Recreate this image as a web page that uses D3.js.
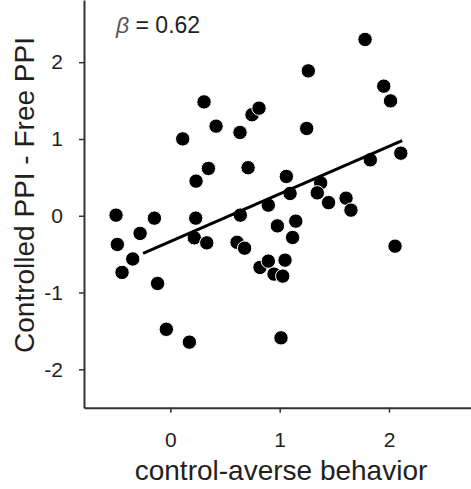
<!DOCTYPE html>
<html>
<head>
<meta charset="utf-8">
<script src="https://cdn.jsdelivr.net/npm/d3@7"></script>
<style>
  html, body { margin: 0; padding: 0; background: #fff; }
  svg { display: block; font-family: "Liberation Sans", Arial, sans-serif; }
</style>
</head>
<body>
<svg id="chart" width="471" height="489"></svg>
<script>
// Per-participant scores
const controlAverse = [
  0.308, 0.418, 0.113, 0.637, 0.747, 0.811, 0.348, 0.235, 0.711, 1.781,
  1.262, 1.952, 2.014, 1.247, 1.061, 1.829, 2.108, 1.095, 1.375, 1.344,
  1.447, 1.607, 1.652, 0.896, 0.979, 1.147, 1.118, 2.055, 0.820, 0.896,
  1.049, 0.948, 1.028, 1.012, -0.497, -0.146, 0.232, 0.640, -0.277, -0.485,
  0.219, 0.333, 0.610, 0.679, -0.344, -0.442, -0.117, -0.037, 0.174
];
const ppiDiff = [
  1.483, 1.167, 1.001, 1.085, 1.316, 1.401, 0.616, 0.451, 0.626, 2.296,
  1.887, 1.688, 1.496, 1.137, 0.512, 0.728, 0.815, 0.290, 0.428, 0.298,
  0.171, 0.229, 0.073, 0.138, -0.132, -0.070, -0.283, -0.396, -0.673, -0.591,
  -0.578, -0.760, -0.786, -1.590, 0.008, -0.031, -0.031, 0.008, -0.230, -0.374,
  -0.288, -0.353, -0.346, -0.422, -0.563, -0.738, -0.882, -1.479, -1.646
];

// Fitted regression
const beta = 0.62;
const intercept = -0.335;
const fitRange = [-0.25, 2.12];

const xTicks = [0, 1, 2];
const yTicks = [-2, -1, 0, 1, 2];

const xLabel = "control-averse behavior";
const yLabel = "Controlled PPI - Free PPI";

const svg = d3.select("#chart");
const ink = "#231f20";

const x = d3.scaleLinear().domain([-0.79, 2.75]).range([84, 471]);
const y = d3.scaleLinear().domain([-2.5, 2.81]).range([407.7, 0]);

// Axes
const xAxis = svg.append("g")
  .attr("transform", `translate(0,${y.range()[0]})`)
  .call(d3.axisBottom(x).tickValues(xTicks).tickFormat(d => String(d))
    .tickSize(5).tickSizeOuter(0).tickPadding(19));

const yAxis = svg.append("g")
  .attr("transform", `translate(${x.range()[0]},0)`)
  .call(d3.axisLeft(y).tickValues(yTicks).tickFormat(d => String(d))
    .tickSize(5).tickSizeOuter(0).tickPadding(16));

[xAxis, yAxis].forEach(g => {
  g.select(".domain").attr("stroke", "#333").attr("stroke-width", 2);
  g.selectAll(".tick line").attr("stroke", "#333").attr("stroke-width", 1.5);
  g.selectAll(".tick text")
    .attr("fill", ink)
    .style("font-size", "21px")
    .style("font-family", "'Liberation Sans', Arial, sans-serif");
});

// Axis titles
svg.append("text")
  .attr("x", 281).attr("y", 480)
  .attr("text-anchor", "middle")
  .attr("fill", ink)
  .style("font-size", "28px")
  .text(xLabel);

svg.append("text")
  .attr("transform", "translate(34,195) rotate(-90)")
  .attr("text-anchor", "middle")
  .attr("fill", ink)
  .style("font-size", "28px")
  .text(yLabel);

// Points
const pts = controlAverse.map((v, i) => ({ x: v, y: ppiDiff[i] }));
svg.append("g").selectAll("circle")
  .data(pts)
  .join("circle")
  .attr("cx", d => x(d.x))
  .attr("cy", d => y(d.y))
  .attr("r", 7.2)
  .attr("fill", "#000")
  .attr("stroke", "#fff")
  .attr("stroke-width", 1);

// Regression line
const line = d3.line().x(d => x(d)).y(d => y(intercept + beta * d));
svg.append("path")
  .datum(fitRange)
  .attr("d", line)
  .attr("fill", "none")
  .attr("stroke", "#000")
  .attr("stroke-width", 3);

// Coefficient label
const lab = svg.append("text")
  .attr("x", 116).attr("y", 33)
  .attr("fill", ink)
  .style("font-size", "23px");
lab.append("tspan").attr("font-style", "italic").attr("fill", "#555").text("β");
lab.append("tspan").text(" = " + beta.toFixed(2));
</script>
</body>
</html>
